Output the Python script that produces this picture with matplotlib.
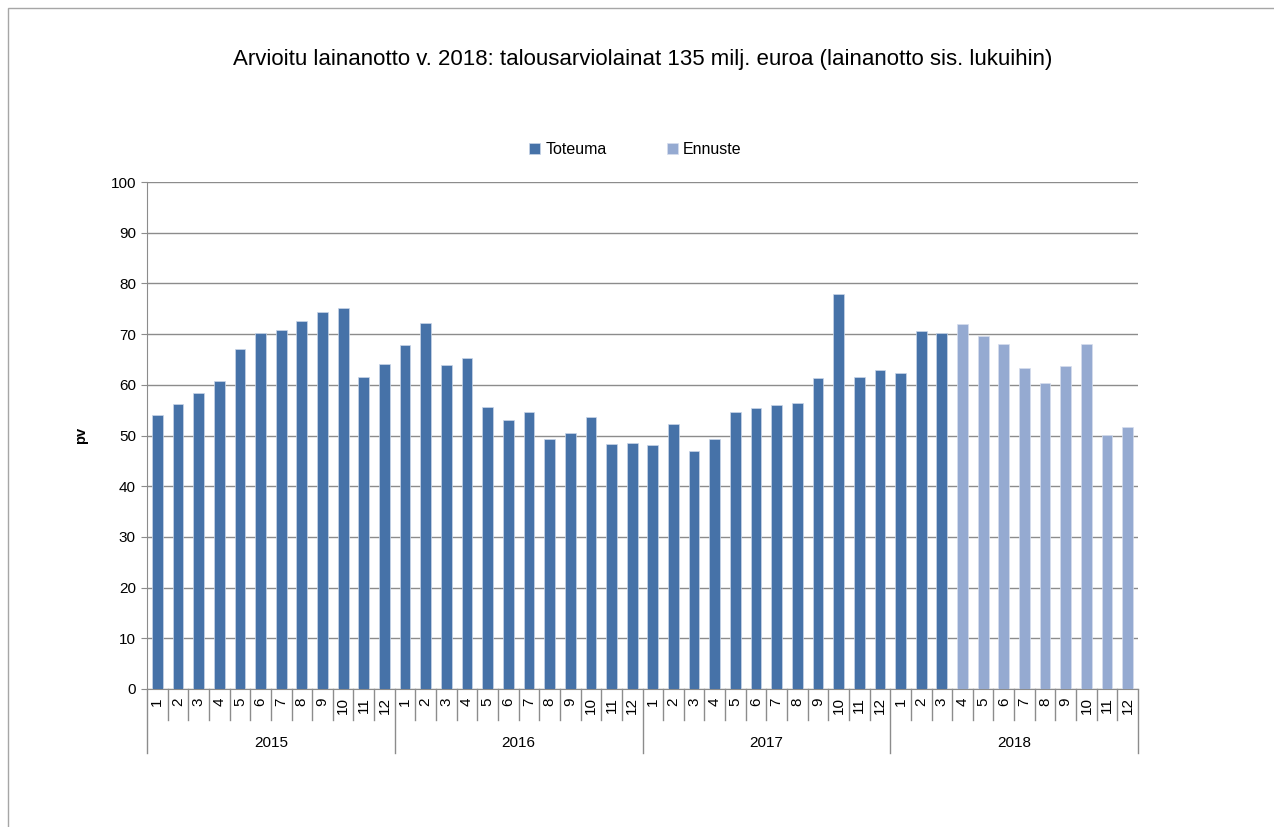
import matplotlib
matplotlib.use("Agg")
import matplotlib.pyplot as plt
from matplotlib.patches import Rectangle
from matplotlib.transforms import blended_transform_factory

# Data
vuodet = ["2015", "2016", "2017", "2018"]
kuukaudet = [str(m) for m in range(1, 13)]

toteuma = [
    54.1, 56.2, 58.4, 60.7, 67.1, 70.2, 70.9, 72.6, 74.4, 75.1, 61.5, 64.2,   # 2015
    67.9, 72.1, 64.0, 65.3, 55.6, 53.0, 54.6, 49.4, 50.4, 53.6, 48.3, 48.5,   # 2016
    48.1, 52.3, 46.9, 49.3, 54.6, 55.4, 56.0, 56.4, 61.3, 78.0, 61.5, 62.9,   # 2017
    62.3, 70.6, 70.2,                                                         # 2018 1-3
]
ennuste = [71.9, 69.6, 68.0, 63.3, 60.4, 63.7, 68.0, 50.1, 51.7]  # 2018 4-12

col_tot = "#4672A8"
col_enn = "#95AAD1"
grid_col = "#8C8C8C"

plt.rcParams["font.family"] = ["Liberation Sans", "DejaVu Sans"]

fig = plt.figure(figsize=(12.74, 8.27), dpi=100)
ax = fig.add_axes([147 / 1274, 1 - 689 / 827, (1138 - 147) / 1274, (689 - 182) / 827])

# outer chart border (right and bottom edges fall outside the picture)
fig.patches.append(Rectangle((8 / 1274, -0.05), 1.05, 1.05 - 8 / 827,
                             transform=fig.transFigure, fill=False,
                             edgecolor="#A6A6A6", linewidth=1.0))

n = len(vuodet) * len(kuukaudet)
x_tot = list(range(len(toteuma)))
x_enn = list(range(len(toteuma), n))
w = 0.52
ax.bar(x_tot, toteuma, width=w, color=col_tot, edgecolor="#C9D6E8", linewidth=0.5,
       label="Toteuma", zorder=3)
ax.bar(x_enn, ennuste, width=w, color=col_enn, edgecolor="#D6DEEE", linewidth=0.5,
       label="Ennuste", zorder=3)

ax.set_xlim(-0.5, n - 0.5)
ax.set_ylim(0, 100)
ax.set_yticks(range(0, 101, 10))
ax.yaxis.grid(True, color=grid_col, linewidth=1.0, zorder=0)
ax.tick_params(axis="y", length=4, color=grid_col, labelsize=11, pad=4)
for s in ["top", "right"]:
    ax.spines[s].set_visible(False)
ax.spines["left"].set_color(grid_col)
ax.spines["bottom"].set_color(grid_col)

ax.set_ylabel("pv", fontsize=10.5, fontweight="bold", labelpad=16)

# month labels
ax.set_xticks(range(n))
ax.set_xticklabels(kuukaudet * len(vuodet), rotation=90, fontsize=11)
ax.tick_params(axis="x", length=0, pad=6)

# category separators and year labels
trans = blended_transform_factory(ax.transData, ax.transAxes)
h_month = 31 / 507
h_year = 64 / 507
for i in range(n + 1):
    xs = i - 0.5
    h = h_year if i % 12 == 0 else h_month
    ax.plot([xs, xs], [0, -h], transform=trans, color=grid_col, linewidth=1.0,
            clip_on=False)
for k, v in enumerate(vuodet):
    ax.text(k * 12 + 5.5, -54 / 507, v, transform=trans, ha="center", va="center",
            fontsize=11)

ax.legend(loc="lower center", bbox_to_anchor=(0.493, 1.02), ncol=2, frameon=False,
          fontsize=11.5, handlelength=0.7, handleheight=0.7, columnspacing=3.8,
          handletextpad=0.3)

fig.text(643 / 1274, 1 - 60 / 827,
         "Arvioitu lainanotto v. 2018: talousarviolainat 135 milj. euroa (lainanotto sis. lukuihin)",
         ha="center", va="center", fontsize=16)

fig.savefig("out.png", dpi=100)
